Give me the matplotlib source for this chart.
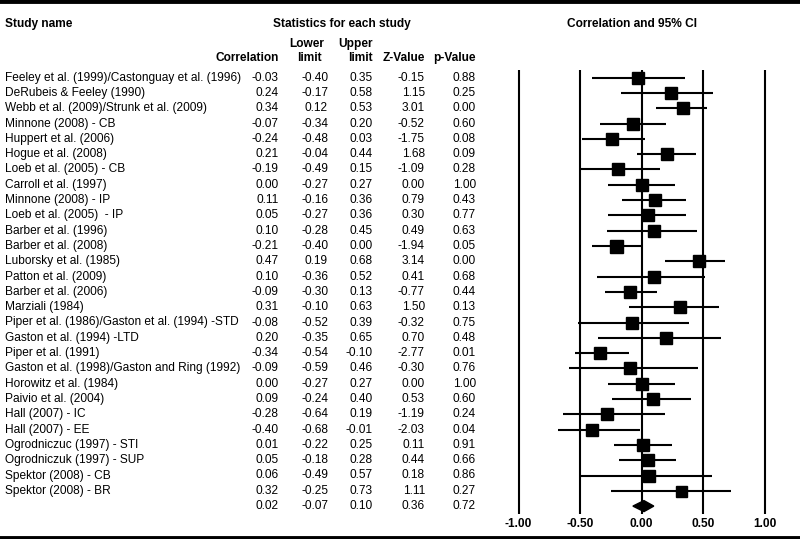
import numpy as np
import matplotlib
matplotlib.use('Agg')
import matplotlib.pyplot as plt

plt.rcParams['font.family'] = ['Liberation Sans', 'DejaVu Sans']

# Study data
studies = ['Feeley et al. (1999)/Castonguay et al. (1996)', 'DeRubeis & Feeley (1990)',
           'Webb et al. (2009)/Strunk et al. (2009)', 'Minnone (2008) - CB', 'Huppert et al. (2006)',
           'Hogue et al. (2008)', 'Loeb et al. (2005) - CB', 'Carroll et al. (1997)',
           'Minnone (2008) - IP', 'Loeb et al. (2005)  - IP', 'Barber et al. (1996)',
           'Barber et al. (2008)', 'Luborsky et al. (1985)', 'Patton et al. (2009)',
           'Barber et al. (2006)', 'Marziali (1984)', 'Piper et al. (1986)/Gaston et al. (1994) -STD',
           'Gaston et al. (1994) -LTD', 'Piper et al. (1991)',
           'Gaston et al. (1998)/Gaston and Ring (1992)', 'Horowitz et al. (1984)',
           'Paivio et al. (2004)', 'Hall (2007) - IC', 'Hall (2007) - EE',
           'Ogrodniczuc (1997) - STI', 'Ogrodniczuk (1997) - SUP', 'Spektor (2008) - CB',
           'Spektor (2008) - BR']
corr = [-0.03, 0.24, 0.34, -0.07, -0.24, 0.21, -0.19, 0.00, 0.11, 0.05, 0.10, -0.21, 0.47, 0.10,
        -0.09, 0.31, -0.08, 0.20, -0.34, -0.09, 0.00, 0.09, -0.28, -0.40, 0.01, 0.05, 0.06, 0.32]
lower = [-0.40, -0.17, 0.12, -0.34, -0.48, -0.04, -0.49, -0.27, -0.16, -0.27, -0.28, -0.40, 0.19,
         -0.36, -0.30, -0.10, -0.52, -0.35, -0.54, -0.59, -0.27, -0.24, -0.64, -0.68, -0.22, -0.18,
         -0.49, -0.25]
upper = [0.35, 0.58, 0.53, 0.20, 0.03, 0.44, 0.15, 0.27, 0.36, 0.36, 0.45, 0.00, 0.68, 0.52, 0.13,
         0.63, 0.39, 0.65, -0.10, 0.46, 0.27, 0.40, 0.19, -0.01, 0.25, 0.28, 0.57, 0.73]
zval = [-0.15, 1.15, 3.01, -0.52, -1.75, 1.68, -1.09, 0.00, 0.79, 0.30, 0.49, -1.94, 3.14, 0.41,
        -0.77, 1.50, -0.32, 0.70, -2.77, -0.30, 0.00, 0.53, -1.19, -2.03, 0.11, 0.44, 0.18, 1.11]
pval = [0.88, 0.25, 0.00, 0.60, 0.08, 0.09, 0.28, 1.00, 0.43, 0.77, 0.63, 0.05, 0.00, 0.68, 0.44,
        0.13, 0.75, 0.48, 0.01, 0.76, 1.00, 0.60, 0.24, 0.04, 0.91, 0.66, 0.86, 0.27]

# Summary (fixed effect)
sum_corr, sum_lower, sum_upper, sum_z, sum_p = 0.02, -0.07, 0.10, 0.36, 0.72

xticks = [-1.0, -0.5, 0.0, 0.5, 1.0]

n = len(studies)
rows = np.arange(n)
row_px = 15.3          # pixel height of a row
top_px = 77.7          # pixel centre of the first row
y_top = -top_px / row_px
y_bot = (539 - top_px) / row_px

fig = plt.figure(figsize=(8, 5.39), dpi=100)

# Text table axes: x in pixels, y in rows
ax = fig.add_axes([0, 0, 1, 1])
ax.set_xlim(0, 800)
ax.set_ylim(y_bot, y_top)
ax.axis('off')

def py(p):
    return (p - top_px) / row_px

fs = 8.6
ax.text(5, py(24), 'Study name', fontsize=fs, fontweight='bold', va='center', ha='left')
ax.text(342, py(24), 'Statistics for each study', fontsize=fs, fontweight='bold', va='center', ha='center')
ax.text(632, py(24), 'Correlation and 95% CI', fontsize=fs, fontweight='bold', va='center', ha='center')
ax.text(279, py(58), 'Correlation', fontsize=fs, fontweight='bold', va='center', ha='right')
ax.text(307, py(44), 'Lower', fontsize=fs, fontweight='bold', va='center', ha='center')
ax.text(309, py(58), 'limit', fontsize=fs, fontweight='bold', va='center', ha='center')
ax.text(373, py(44), 'Upper', fontsize=fs, fontweight='bold', va='center', ha='right')
ax.text(373, py(58), 'limit', fontsize=fs, fontweight='bold', va='center', ha='right')
ax.text(425, py(58), 'Z-Value', fontsize=fs, fontweight='bold', va='center', ha='right')
ax.text(476, py(58), 'p-Value', fontsize=fs, fontweight='bold', va='center', ha='right')

cols = [(279, corr), (328, lower), (373, upper), (425, zval), (476, pval)]
for i in range(n):
    ax.text(5, rows[i], studies[i], fontsize=fs, va='center', ha='left')
    for x, vals in cols:
        ax.text(x, rows[i], f'{vals[i]:.2f}', fontsize=fs, va='center', ha='right')
for x, v in zip([279, 328, 373, 425, 476], [sum_corr, sum_lower, sum_upper, sum_z, sum_p]):
    ax.text(x, n, f'{v:.2f}', fontsize=fs, va='center', ha='right')

# Thick border lines
ax.axhline(py(1.5), color='black', lw=3.5)
ax.axhline(py(537.5), color='black', lw=3.5)

# Forest axes: x in correlation units
axf = fig.add_axes([480 / 800, 0, 320 / 800, 1])
px_per_unit = 123.0
x0_px = 641.5
axf.set_xlim((480 - x0_px) / px_per_unit, (800 - x0_px) / px_per_unit)
axf.set_ylim(y_bot, y_top)
axf.axis('off')
axf.patch.set_alpha(0)

for t in xticks:
    axf.plot([t, t], [py(70), py(514)], color='black', lw=1.5, solid_capstyle='butt')
    axf.text(t, py(524), f'{t:.2f}', fontsize=fs, fontweight='bold', ha='center', va='center')

# Square size from study weight (inverse variance in Fisher z), compressed range
se = (np.arctanh(np.array(upper)) - np.arctanh(np.array(lower))) / 3.92
w = np.sqrt(1 / se ** 2)
size_px = 11 + 2 * (w - w.min()) / (w.max() - w.min())

for i in range(n):
    axf.plot([lower[i], upper[i]], [rows[i], rows[i]], color='black', lw=1.5, solid_capstyle='butt')
    axf.plot(corr[i], rows[i], marker='s', color='black', markersize=size_px[i] * 0.72, linestyle='none')

# Summary diamond
dh = 5.5 / row_px
axf.fill([sum_lower, sum_corr, sum_upper, sum_corr], [n, n - dh, n, n + dh], color='black')

plt.savefig('out.png', dpi=100)
